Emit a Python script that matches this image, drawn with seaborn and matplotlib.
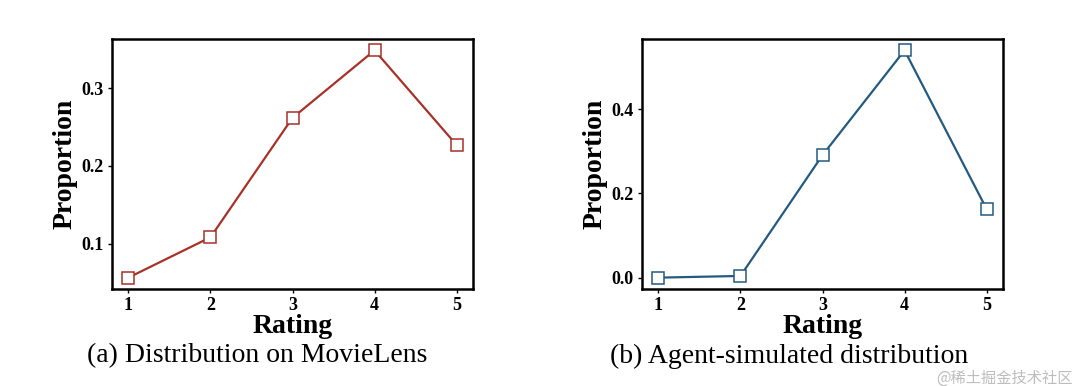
import matplotlib
matplotlib.use("Agg")
import matplotlib.pyplot as plt
import seaborn as sns
import pandas as pd

# data
ratings = [1, 2, 3, 4, 5]
movielens = [0.056, 0.108, 0.262, 0.349, 0.227]
simulated = [0.000, 0.004, 0.291, 0.540, 0.163]
captions = ["(a) Distribution on MovieLens", "(b) Agent-simulated distribution"]

sns.set_style("ticks")
plt.rcParams['font.family'] = ['Liberation Serif', 'DejaVu Serif']
plt.rcParams['text.color'] = 'black'
plt.rcParams['axes.labelcolor'] = 'black'
plt.rcParams['xtick.color'] = 'black'
plt.rcParams['ytick.color'] = 'black'

fig = plt.figure(figsize=(10.8, 3.86), dpi=100)
ax1 = fig.add_axes([112 / 1080, 1 - 289 / 386, 361 / 1080, 250 / 386])
ax2 = fig.add_axes([642 / 1080, 1 - 289 / 386, 361 / 1080, 250 / 386])

panels = [
    (ax1, movielens, '#a83128', [0.1, 0.2, 0.3]),
    (ax2, simulated, '#245a7e', [0.0, 0.2, 0.4]),
]

for ax, vals, col, yt in panels:
    df = pd.DataFrame({'Rating': ratings, 'Proportion': vals})
    sns.lineplot(data=df, x='Rating', y='Proportion', ax=ax, color=col,
                 linewidth=1.6, marker='s', markersize=9,
                 markerfacecolor='white', markeredgecolor=col,
                 markeredgewidth=1.1)
    ax.set_xticks(ratings)
    ax.set_yticks(yt)
    ax.set_yticklabels([f"{v:.1f}" for v in yt])
    ax.set_xlabel('Rating', fontsize=20, fontweight='bold', labelpad=0)
    ax.set_ylabel('Proportion', fontsize=20, fontweight='bold', labelpad=3)
    ax.tick_params(labelsize=13, length=3, width=1, pad=3)
    for lab in ax.get_xticklabels() + ax.get_yticklabels():
        lab.set_fontweight('bold')
    for sp in ax.spines.values():
        sp.set_linewidth(1.8)
        sp.set_color('black')

fig.text(257 / 1080, 1 - 356 / 386, captions[0], ha='center', va='center',
         fontsize=20)
fig.text(789 / 1080, 1 - 356 / 386, captions[1], ha='center', va='center',
         fontsize=20)

# watermark
fig.text(1073 / 1080, 1 - 378 / 386, '@稀土掘金技术社区', ha='right',
         va='center', fontsize=11, color='#bdbdbd',
         family=['Noto Sans CJK SC', 'DejaVu Sans'])

fig.savefig('out.png', dpi=100)
